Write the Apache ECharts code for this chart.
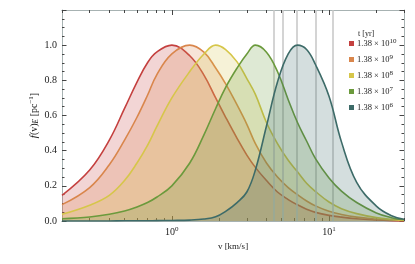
<!DOCTYPE html>
<html>
<head>
<meta charset="utf-8">
<script src="https://cdn.jsdelivr.net/npm/echarts@6/dist/echarts.min.js"></script>
<style>
html,body{margin:0;padding:0;background:#fff;}
#c{width:415px;height:264px;}
</style>
</head>
<body>
<div id="c"></div>
<script>
// velocity samples [km/s]
var v = [0.2, 0.3, 0.4, 0.5, 0.6, 0.7, 0.8, 1.0, 1.3, 1.6, 1.9, 2.2, 2.6, 3.0, 3.4, 4.0, 4.7, 5.5, 6.3, 7.2, 8.2, 10, 12, 15, 20, 25, 30];
// f(v)_E for each age
var f1e10 = [0.146, 0.29, 0.46, 0.64, 0.79, 0.90, 0.96, 1.00, 0.94, 0.83, 0.70, 0.59, 0.47, 0.375, 0.305, 0.23, 0.165, 0.122, 0.092, 0.067, 0.049, 0.032, 0.022, 0.013, 0.006, 0.002, 0.0];
var f1e9  = [0.093, 0.19, 0.32, 0.46, 0.59, 0.715, 0.83, 0.95, 1.00, 0.96, 0.87, 0.78, 0.66, 0.55, 0.44, 0.33, 0.25, 0.19, 0.15, 0.114, 0.086, 0.055, 0.037, 0.022, 0.011, 0.005, 0.002];
var f1e8  = [0.038, 0.09, 0.146, 0.23, 0.33, 0.43, 0.535, 0.70, 0.85, 0.95, 1.00, 0.975, 0.905, 0.81, 0.72, 0.56, 0.44, 0.345, 0.28, 0.215, 0.168, 0.108, 0.07, 0.042, 0.019, 0.009, 0.004];
var f1e7  = [0.013, 0.023, 0.038, 0.057, 0.08, 0.105, 0.135, 0.20, 0.33, 0.49, 0.64, 0.76, 0.87, 0.95, 1.00, 0.96, 0.85, 0.69, 0.56, 0.455, 0.355, 0.245, 0.17, 0.105, 0.046, 0.019, 0.007];
var f1e6  = [0.0, 0.0, 0.0, 0.001, 0.001, 0.001, 0.002, 0.003, 0.005, 0.011, 0.024, 0.055, 0.105, 0.165, 0.29, 0.54, 0.79, 0.95, 1.00, 0.975, 0.89, 0.71, 0.45, 0.22, 0.085, 0.03, 0.01];
// legend exponents (t = 1.38 x 10^n yr)
var tExp = [10, 9, 8, 7, 6];
// vertical reference lines [km/s]
var markV = [4.45, 5.1, 6.25, 8.25, 10.5];
// axis ticks
var xMajor = [1, 10];
var xMinor = [0.2,0.3,0.4,0.5,0.6,0.7,0.8,0.9,2,3,4,5,6,7,8,9,20,30];

var colors = ['#c4403f', '#d9864c', '#d6c64a', '#6b9a3c', '#3d6b68'];
var values = [f1e10, f1e9, f1e8, f1e7, f1e6];
var names = tExp.map(function(e){ return '1.38×10^' + e; });
var serif = '"Liberation Serif", "DejaVu Serif", serif';
var frame = '#a7b2b2';
var ink = '#222';

var series = [{
  name: 'refs', type: 'line', data: [], z: 1, silent: true,
  markLine: {
    silent: true, symbol: ['none','none'], label: {show:false},
    lineStyle: {color: '#c6c6c6', width: 1.5, type: 'solid'},
    emphasis: {disabled: true},
    data: markV.map(function(x){ return {xAxis: x}; })
  }
}];
values.forEach(function(arr, k){
  series.push({
    name: names[k], type: 'line', smooth: 0.4, symbol: 'none', z: 2 + k,
    lineStyle: {color: colors[k], width: 1.6},
    itemStyle: {color: colors[k]},
    areaStyle: {color: colors[k], opacity: 0.22},
    data: v.map(function(x, i){ return [x, arr[i]]; })
  });
});

function xAxisCfg(pos, ticks, len, labels) {
  return {
    type: 'log', logBase: 10, min: 0.2, max: 30, position: pos,
    axisLine: {show: true, onZero: false, lineStyle: {color: frame, width: 1}},
    axisTick: {show: true, inside: true, length: len, customValues: ticks, lineStyle: {color: '#444', width: 1}},
    minorTick: {show: false},
    splitLine: {show: false},
    axisLabel: labels ? {
      show: true, customValues: xMajor, margin: 5,
      fontFamily: serif, fontSize: 10, color: ink,
      formatter: function(val){ return '{b|10}{s|' + Math.round(Math.log10(val)) + '}'; },
      rich: {b: {fontFamily: serif, fontSize: 10, color: ink}, s: {fontFamily: serif, fontSize: 7, color: ink, verticalAlign: 'top', padding: [0,0,5,0]}}
    } : {show: false},
    name: labels ? 'v [km/s]' : '', nameLocation: 'middle', nameGap: 16,
    nameTextStyle: {fontFamily: serif, fontSize: 9, color: ink}
  };
}
function yAxisCfg(pos, labels) {
  return {
    type: 'value', min: 0, max: 1.2, interval: 0.2, position: pos,
    axisLine: {show: true, onZero: false, lineStyle: {color: frame, width: 1}},
    axisTick: {show: true, inside: true, length: 4.5, lineStyle: {color: '#444'}},
    minorTick: {show: true, splitNumber: 4, length: 2.5, lineStyle: {color: '#444'}},
    splitLine: {show: false}, minorSplitLine: {show: false},
    axisLabel: labels ? {show: true, showMaxLabel: false, margin: 5, fontFamily: serif, fontSize: 10, color: ink,
      formatter: function(val){ return val.toFixed(1); }} : {show: false},
    name: labels ? '{i|f}{n|(v)}{sub|E}{n| [pc}{sup|−1}{n|]}' : '',
    nameLocation: 'middle', nameGap: 22, nameRotate: 90, nameMoveOverlap: false,
    nameTextStyle: {fontFamily: serif, fontSize: 10, color: ink,
      rich: {
        i: {fontFamily: serif, fontSize: 11, fontStyle: 'italic', color: ink},
        n: {fontFamily: serif, fontSize: 10, color: ink},
        sub: {fontFamily: serif, fontSize: 7.5, fontStyle: 'italic', color: ink, verticalAlign: 'bottom', padding: [4,0,0,0]},
        sup: {fontFamily: serif, fontSize: 7, color: ink, verticalAlign: 'top', padding: [0,0,5,0]}
      }}
  };
}

var chart = echarts.init(document.getElementById('c'), null, {renderer: 'canvas'});
chart.setOption({
  animation: false,
  backgroundColor: '#fff',
  grid: {left: 62, right: 11, top: 10, bottom: 43},
  title: {text: 't [yr]', left: 358, top: 30, padding: 0, textStyle: {fontFamily: serif, fontSize: 8, fontWeight: 'normal', color: ink}},
  legend: {
    data: names, orient: 'vertical', left: 349, top: 38, padding: 0,
    icon: 'rect', itemWidth: 5, itemHeight: 5, itemGap: 6,
    selectedMode: false,
    formatter: function(name){ return '{n|1.38 × 10}{s|' + name.split('^')[1] + '}'; },
    textStyle: {fontFamily: serif, fontSize: 8.5, color: ink, padding: [0,0,0,-2],
      rich: {n: {fontFamily: serif, fontSize: 8.5, color: ink}, s: {fontFamily: serif, fontSize: 7, color: ink, verticalAlign: 'top', padding: [0,0,4,0]}}}
  },
  xAxis: [
    xAxisCfg('bottom', xMajor, 5, true),
    xAxisCfg('bottom', xMinor, 3, false),
    xAxisCfg('top', xMajor, 5, false),
    xAxisCfg('top', xMinor, 3, false)
  ],
  yAxis: [yAxisCfg('left', true), yAxisCfg('right', false)],
  series: series
});
</script>
</body>
</html>
